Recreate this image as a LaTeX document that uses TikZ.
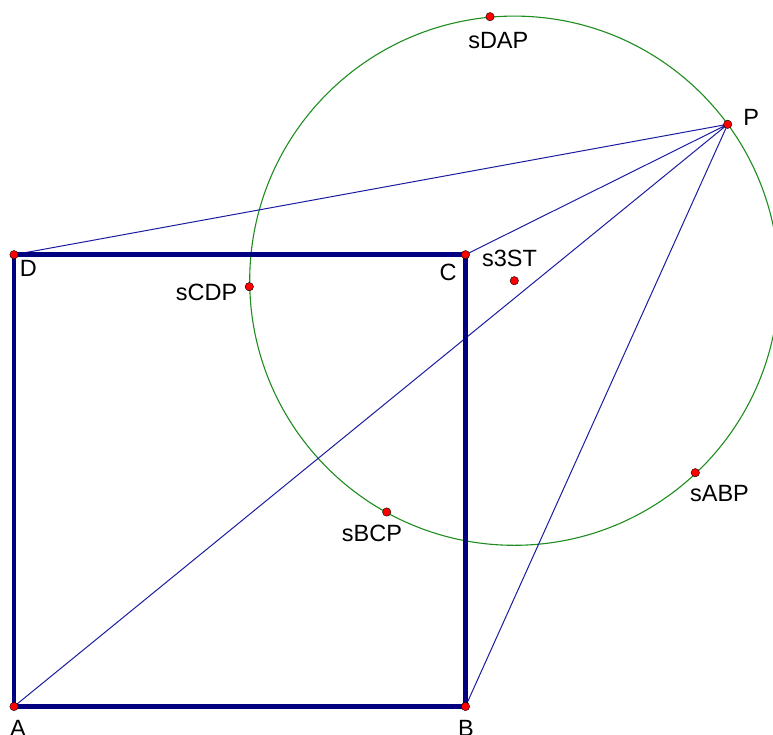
\documentclass[tikz,border=0pt]{standalone}
\usepackage{fontspec}
\setmainfont{Liberation Sans}
\usetikzlibrary{calc}
\definecolor{navy}{HTML}{000080}
\definecolor{azul}{HTML}{1C1CA0}
\definecolor{verde}{HTML}{1E8C1E}
\definecolor{rojo}{HTML}{FF0000}

\begin{document}
\begin{tikzpicture}[x=1pt,y=-1pt,line cap=round,
    lbl/.style={inner sep=0pt,anchor=base,font=\fontsize{23.5}{28}\selectfont}]
  \useasboundingbox (0,0) rectangle (773,735);
  % square
  \coordinate (A) at (14,706.5);
  \coordinate (B) at (465.5,706.5);
  \coordinate (C) at (465.5,254.7);
  \coordinate (D) at (14,254.7);
  \coordinate (P) at (727.7,124.3);
  % circle points
  \coordinate (S) at (514.3,280.7);
  \coordinate (sDAP) at (490,16.7);
  \coordinate (sCDP) at (249.3,286.7);
  \coordinate (sBCP) at (386.7,512);
  \coordinate (sABP) at (695.3,472.7);
  \draw[verde,line width=1.1pt] (S) circle (264.6pt);
  \draw[azul,line width=1pt] (P) -- (D) (P) -- (C) (P) -- (A) (P) -- (B);
  \draw[navy,line width=4.5pt,line join=miter] (A) -- (B) -- (C) -- (D) -- cycle;
  \foreach \p in {A,B,C,D,P,S,sDAP,sCDP,sBCP,sABP}{
    \filldraw[fill=rojo,draw=black,line width=0.4pt] (\p) circle (4.2pt);
  }
  % labels
  \node[lbl] (lA) at (18,736.8) {A};
  \node[lbl] (lB) at (466,736.8) {B};
  \node[lbl] (lC) at (448.2,280) {C};
  \node[lbl] (lD) at (28.3,276.7) {D};
  \node[lbl] (lP) at (751.3,126) {P};
  \node[lbl] (lS) at (509.5,266) {s3ST};
  \node[lbl] (lDAP) at (498.3,48.3) {sDAP};
  \node[lbl] (lCDP) at (206.5,300.7) {sCDP};
  \node[lbl] (lBCP) at (372,541.7) {sBCP};
  \node[lbl] (lABP) at (719.5,501.7) {sABP};
\end{tikzpicture}
\end{document}
